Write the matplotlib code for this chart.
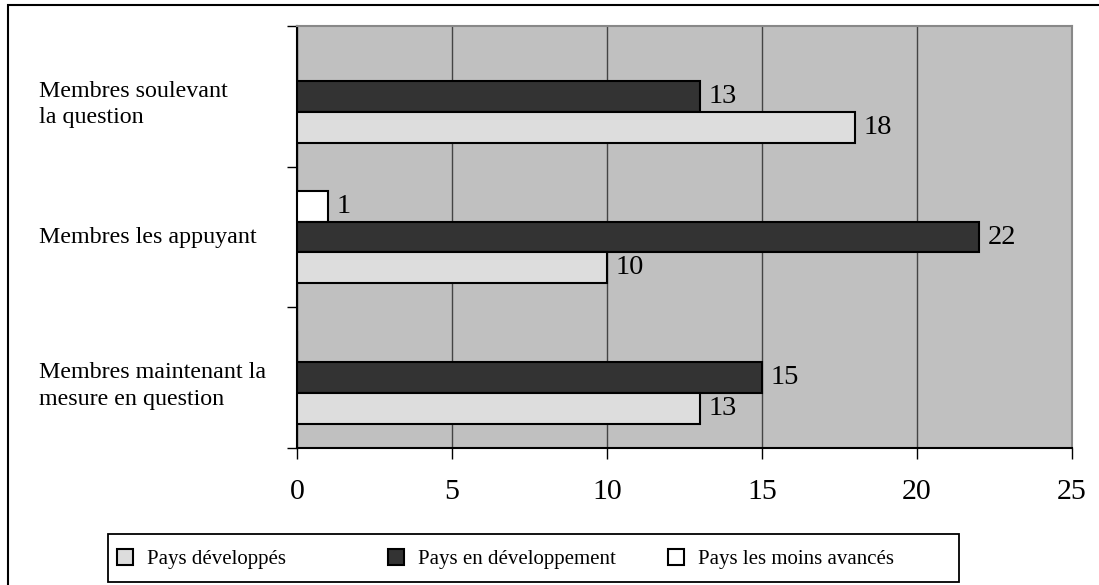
import matplotlib.pyplot as plt
import numpy as np
from matplotlib.patches import Rectangle

plt.rcParams['font.family'] = ['Liberation Serif', 'DejaVu Serif']

categories = ['Membres soulevant\nla question',
              'Membres les appuyant',
              'Membres maintenant la\nmesure en question']
series = ['Pays développés', 'Pays en développement', 'Pays les moins avancés']
developpes = [18, 10, 13]
en_dev = [13, 22, 15]
moins_av = [0, 1, 0]

colors = {'Pays développés': '#dddddd',
          'Pays en développement': '#333333',
          'Pays les moins avancés': '#ffffff'}

W, H = 1099, 585
fig = plt.figure(figsize=(W/100, H/100), dpi=100)
ax = fig.add_axes([297/W, 1 - 448/H, 775/W, 422/H])
ax.set_facecolor('#c0c0c0')

# frame round the chart (runs off the right and bottom edges)
fig.patches.append(Rectangle((8/W, -0.05), 1.1, 1 - 5/H + 0.05,
                             transform=fig.transFigure, fill=False,
                             edgecolor='black', linewidth=1.5))

y = np.arange(len(categories))
h = 0.22
vals = {'Pays les moins avancés': (moins_av, -h),
        'Pays en développement': (en_dev, 0),
        'Pays développés': (developpes, h)}
handles = {}
for name in ['Pays les moins avancés', 'Pays en développement', 'Pays développés']:
    v, off = vals[name]
    bars = ax.barh(y + off, v, height=h, color=colors[name],
                   edgecolor='black', linewidth=1.5, zorder=3, label=name)
    handles[name] = bars
    for yy, val in zip(y + off, v):
        if val > 0:
            ax.text(val + 0.28, yy, str(val), va='center', ha='left',
                    fontsize=20.5, zorder=4)

ax.set_xlim(0, 25)
ax.set_ylim(2.5, -0.5)
ax.set_xticks(np.arange(0, 26, 5))
ax.tick_params(axis='x', labelsize=21.5, length=8, width=1, pad=14)
ax.set_yticks([-0.5, 0.5, 1.5, 2.5])
ax.set_yticklabels([])
ax.tick_params(axis='y', length=7, width=1)
ax.grid(axis='x', color='#444444', linewidth=1, zorder=1)
ax.set_axisbelow(True)
for s in ['top', 'right']:
    ax.spines[s].set_color('#888888')
    ax.spines[s].set_linewidth(1.5)
ax.spines['left'].set_linewidth(1.5)
ax.spines['bottom'].set_linewidth(1.5)

# category names, left aligned in the margin; two-line names sit a bit lower
for yy, lab in zip(y, categories):
    nl = lab.count('\n')
    ax.annotate(lab, xy=(-258/775, yy), xycoords=ax.get_yaxis_transform(),
                xytext=(0, -6 * nl), textcoords='offset points',
                ha='left', va='center', fontsize=17.3, linespacing=1.33)

# legend box with one entry per series
fig.patches.append(Rectangle((108/W, 1 - 582/H), 851/W, 48/H,
                             transform=fig.transFigure, fill=False,
                             edgecolor='black', linewidth=1.3))
for name, x0 in zip(series, [117, 388, 668]):
    leg = fig.legend([handles[name]], [name], loc='center left',
                     bbox_to_anchor=(x0/W, 1 - 559/H), frameon=False,
                     fontsize=15, borderpad=0, borderaxespad=0,
                     handlelength=0.77, handleheight=0.77, handletextpad=0.67)
    for p in leg.get_patches():
        p.set_linewidth(1.5)

fig.savefig('out.png', dpi=100)
